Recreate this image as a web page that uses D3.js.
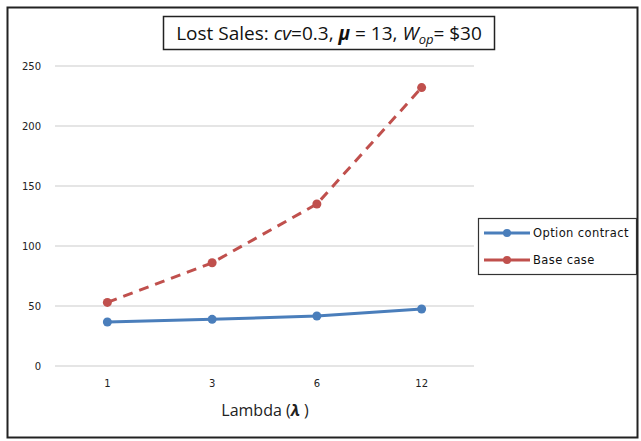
<!DOCTYPE html>
<html>
<head>
<meta charset="utf-8">
<script src="https://cdn.jsdelivr.net/npm/d3@7"></script>
<style>
  html, body { margin: 0; padding: 0; background: #fff; }
  svg { display: block; }
</style>
</head>
<body>
<svg id="chart" width="641" height="441"></svg>
<script>
// Lost sales versus lambda for the option contract and the base case
const categories = ["1", "3", "6", "12"];
const optionContract = [36.7, 38.9, 41.7, 47.5];
const baseCase = [53, 86, 135, 232];
const yTicks = [0, 50, 100, 150, 200, 250];

const svg = d3.select("#chart");
const font = "'Open Sans', 'Liberation Sans', Arial, sans-serif";

const plot = { left: 55, right: 474, top: 66, bottom: 366 };

const x = d3.scaleBand().domain(categories).range([plot.left, plot.right]);
const y = d3.scaleLinear().domain([0, 250]).range([plot.bottom, plot.top]);

// outer frame
svg.append("rect")
  .attr("x", 7.5).attr("y", 7.5).attr("width", 630).attr("height", 430)
  .attr("fill", "#fff").attr("stroke", "#222").attr("stroke-width", 2);

// gridlines
svg.append("g").selectAll("line").data(yTicks).join("line")
  .attr("x1", plot.left).attr("x2", plot.right)
  .attr("y1", d => y(d)).attr("y2", d => y(d))
  .attr("stroke", "#dcdcdc").attr("stroke-width", 1.5);

// y axis labels
const yAxis = d3.axisLeft(y).tickValues(yTicks).tickSize(0).tickPadding(0);
const yg = svg.append("g").attr("transform", `translate(${plot.left - 14},0)`).call(yAxis);
yg.select(".domain").remove();
yg.selectAll("text").attr("font-family", "'DejaVu Sans', sans-serif").attr("font-size", 10).attr("fill", "#222");

// x axis labels
const xAxis = d3.axisBottom(x).tickSize(0).tickPadding(0);
const xg = svg.append("g").attr("transform", `translate(0,${plot.bottom + 14})`).call(xAxis);
xg.select(".domain").remove();
xg.selectAll("text").attr("font-family", "'DejaVu Sans', sans-serif").attr("font-size", 10).attr("fill", "#222");

// axis title
const xt = svg.append("text").attr("x", 265).attr("y", 416)
  .attr("text-anchor", "middle").attr("font-family", font).attr("font-size", 16).attr("fill", "#222");
xt.append("tspan").text("Lambda (");
xt.append("tspan").attr("font-style", "italic").attr("font-weight", "bold").text("λ");
xt.append("tspan").text(" )");

// series
const series = [
  { name: "Option contract", values: optionContract, color: "#4a7ebb", dash: null },
  { name: "Base case", values: baseCase, color: "#c0504d", dash: "10,7" }
];

const line = d3.line()
  .x((d, i) => x(categories[i]) + x.bandwidth() / 2)
  .y(d => y(d));

series.forEach(s => {
  svg.append("path").datum(s.values)
    .attr("d", line).attr("fill", "none")
    .attr("stroke", s.color).attr("stroke-width", 3)
    .attr("stroke-dasharray", s.dash);
  svg.append("g").selectAll("circle").data(s.values).join("circle")
    .attr("cx", (d, i) => x(categories[i]) + x.bandwidth() / 2)
    .attr("cy", d => y(d))
    .attr("r", 4.5).attr("fill", s.color);
});

// title box
svg.append("rect")
  .attr("x", 163.5).attr("y", 16.5).attr("width", 331).attr("height", 33)
  .attr("fill", "#fff").attr("stroke", "#222").attr("stroke-width", 1.5);
const title = svg.append("text").attr("x", 329).attr("y", 40)
  .attr("text-anchor", "middle").attr("font-family", font).attr("font-size", 19).attr("fill", "#111");
title.append("tspan").text("Lost Sales: ");
title.append("tspan").attr("font-style", "italic").text("cv");
title.append("tspan").text("=0.3, ");
title.append("tspan").attr("font-style", "italic").attr("font-weight", "bold").text("μ");
title.append("tspan").text(" = 13, ");
title.append("tspan").attr("font-style", "italic").text("W");
title.append("tspan").attr("font-style", "italic").attr("font-size", 13).attr("dy", 4).text("op");
title.append("tspan").attr("dy", -4).text("= $30");

// legend
const lg = svg.append("g");
lg.append("rect").attr("x", 478.5).attr("y", 218.5).attr("width", 158).attr("height", 56)
  .attr("fill", "#fff").attr("stroke", "#333").attr("stroke-width", 1.2);
series.forEach((s, i) => {
  const yy = 233 + i * 27;
  lg.append("line").attr("x1", 484).attr("x2", 530).attr("y1", yy).attr("y2", yy)
    .attr("stroke", s.color).attr("stroke-width", 3);
  lg.append("circle").attr("cx", 507).attr("cy", yy).attr("r", 4).attr("fill", s.color);
  lg.append("text").attr("x", 533).attr("y", yy + 4)
    .attr("font-family", "'DejaVu Sans', sans-serif").attr("font-size", 11.5).attr("fill", "#111")
    .attr("letter-spacing", 0.4)
    .text(s.name);
});
</script>
</body>
</html>
